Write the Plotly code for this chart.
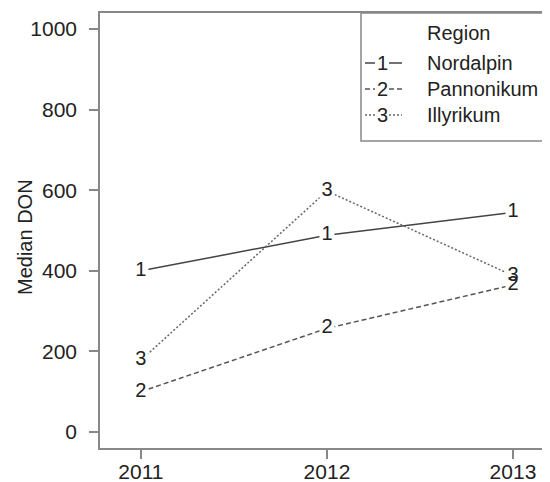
import plotly.graph_objects as go

years = [2011, 2012, 2013]
regions = ["Nordalpin", "Pannonikum", "Illyrikum"]
labels = ["1", "2", "3"]
nordalpin = [400, 488, 545]
pannonikum = [100, 257, 365]
illyrikum = [178, 598, 388]
series = [nordalpin, pannonikum, illyrikum]
y_ticks = [0, 200, 400, 600, 800, 1000]

FONT = "Liberation Sans, Arial, Helvetica, sans-serif"
TXT = "#222222"
dashes = ["solid", "5px,3px", "2px,2px"]
colors = ["#444444", "#555555", "#666666"]

fig = go.Figure()
# lines with white markers to create gaps around labels
for name, vals, d, c in zip(regions, series, dashes, colors):
    fig.add_trace(go.Scatter(x=years, y=vals, mode="lines+markers", name=name,
                             line=dict(color=c, width=1.5, dash=d),
                             marker=dict(color="white", size=15, symbol="square",
                                         line=dict(width=0)),
                             showlegend=False, hoverinfo="skip"))
for name, vals, lab in zip(regions, series, labels):
    fig.add_trace(go.Scatter(x=years, y=vals, mode="text", text=[lab] * len(vals),
                             textposition="middle center",
                             textfont=dict(family=FONT, size=20, color=TXT),
                             showlegend=False, hoverinfo="skip"))

# page body has an 8px margin: figure coords = screen coords - 8
OFF = 8
W, H = 550, 482
L, R, T, B = 92, 0, 5, 42
pw, ph = W - L - R, H - T - B

def px(x):
    return (x - OFF - L) / pw

def py(y):
    return (H - B - (y - OFF)) / ph

shapes = []
annotations = []
# legend box
shapes.append(dict(type="rect", xref="paper", yref="paper", x0=px(361), x1=px(620),
                   y0=py(141), y1=1, line=dict(color="#888888", width=1.5),
                   fillcolor="white", layer="above"))
annotations.append(dict(xref="paper", yref="paper", x=px(425), y=py(33), text="Region",
                        showarrow=False, xanchor="left", yanchor="middle",
                        font=dict(family=FONT, size=20, color=TXT)))
leg_y = [63, 89, 115]
for i, (name, lab, d, c) in enumerate(zip(regions, labels, dashes, colors)):
    yy = py(leg_y[i])
    shapes.append(dict(type="line", xref="paper", yref="paper", x0=px(365), x1=px(375),
                       y0=yy, y1=yy, line=dict(color=c, width=1.5, dash=d), layer="above"))
    shapes.append(dict(type="line", xref="paper", yref="paper", x0=px(389), x1=px(402),
                       y0=yy, y1=yy, line=dict(color=c, width=1.5, dash=d), layer="above"))
    annotations.append(dict(xref="paper", yref="paper", x=px(382), y=yy, text=lab,
                            showarrow=False, xanchor="center", yanchor="middle",
                            font=dict(family=FONT, size=20, color=TXT)))
    annotations.append(dict(xref="paper", yref="paper", x=px(425), y=yy, text=name,
                            showarrow=False, xanchor="left", yanchor="middle",
                            font=dict(family=FONT, size=20, color=TXT)))
# y axis title
annotations.append(dict(xref="paper", yref="paper", x=px(25), y=py(237), text="Median DON",
                        textangle=-90, showarrow=False, xanchor="center", yanchor="middle",
                        font=dict(family=FONT, size=20, color=TXT)))

fig.update_layout(
    width=W, height=H, margin=dict(l=L, r=R, t=T, b=B, pad=0, autoexpand=False),
    paper_bgcolor="white", plot_bgcolor="white",
    shapes=shapes, annotations=annotations,
    xaxis=dict(range=[2010.78, 2013.242], tickvals=years, ticktext=[str(y) for y in years],
               automargin=False,
               showgrid=False, zeroline=False, showline=True, mirror=True,
               linecolor="#888888", linewidth=1.5, ticks="outside", ticklen=9,
               tickcolor="#888888", tickwidth=1.5, ticklabelstandoff=-5,
               tickfont=dict(family=FONT, size=21, color=TXT)),
    yaxis=dict(range=[-40, 1040], tickvals=y_ticks, showgrid=False, zeroline=False,
               automargin=False,
               showline=True, mirror=False, linecolor="#888888", linewidth=1.5,
               ticks="outside", ticklen=9, tickcolor="#888888", tickwidth=1.5,
               tickfont=dict(family=FONT, size=21, color=TXT), ticklabelstandoff=8),
)

fig.write_html("out.html")
